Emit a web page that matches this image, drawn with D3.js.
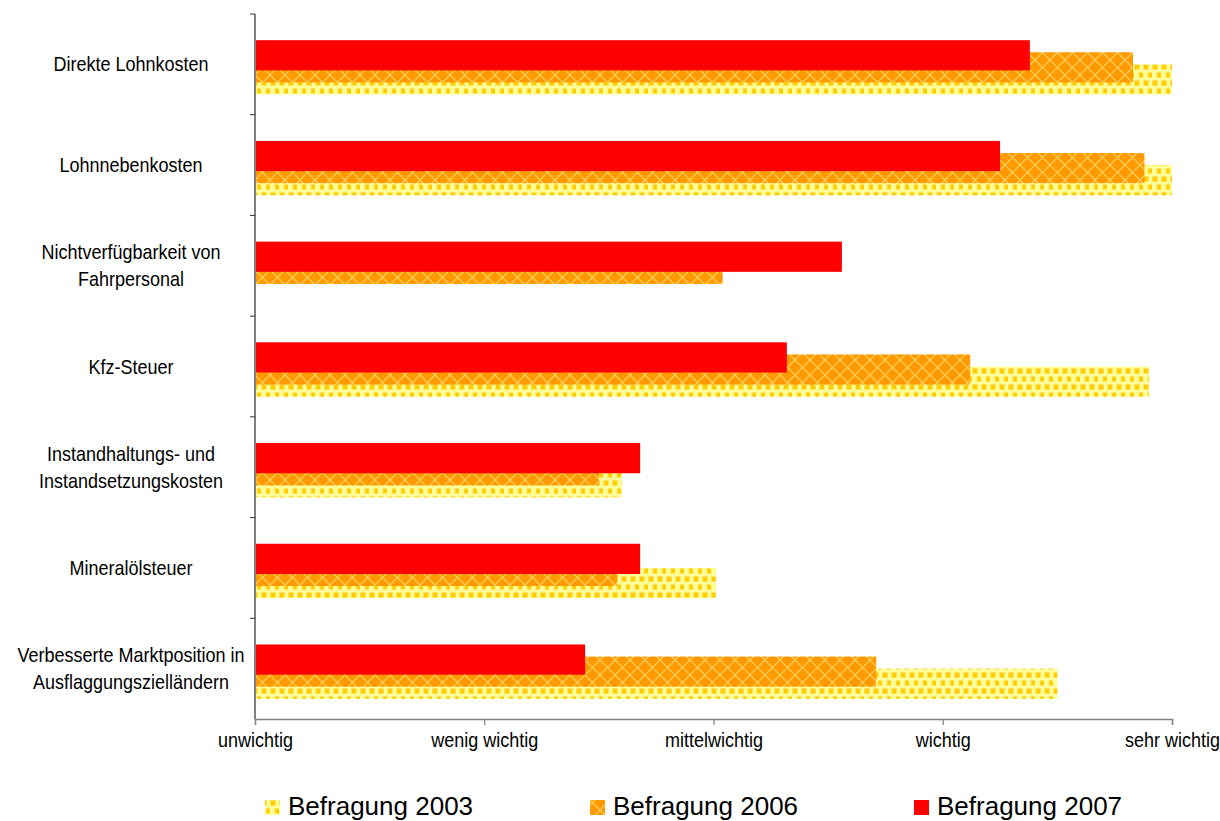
<!DOCTYPE html>
<html>
<head>
<meta charset="utf-8">
<script src="https://cdn.jsdelivr.net/npm/d3@7"></script>
<style>
  html, body { margin: 0; padding: 0; background: #fff; }
  svg { display: block; }
  text { fill: #000; }
</style>
</head>
<body>
<svg id="chart" width="1220" height="821"></svg>
<script>
// Bewertung der Kostenfaktoren (1 = unwichtig ... 5 = sehr wichtig)
const categories = [
  ["Direkte Lohnkosten"],
  ["Lohnnebenkosten"],
  ["Nichtverfügbarkeit von", "Fahrpersonal"],
  ["Kfz-Steuer"],
  ["Instandhaltungs- und", "Instandsetzungskosten"],
  ["Mineralölsteuer"],
  ["Verbesserte Marktposition in", "Ausflaggungszielländern"]
];
const values2003 = [5.0, 5.0, null, 4.90, 2.60, 3.01, 4.50];
const values2006 = [4.83, 4.88, 3.04, 4.12, 2.50, 2.58, 3.71];
const values2007 = [4.38, 4.25, 3.56, 3.32, 2.68, 2.68, 2.44];
const tickLabels = ["unwichtig", "wenig wichtig", "mittelwichtig", "wichtig", "sehr wichtig"];
const seriesNames = ["Befragung 2003", "Befragung 2006", "Befragung 2007"];

const svg = d3.select("#chart");
const defs = svg.append("defs");
const narrowFont = "'Liberation Sans', Arial, sans-serif";
const squeeze = 0.9; // condensed look for axis and category text

// dotted yellow fill
const p03 = defs.append("pattern").attr("id", "pat2003")
  .attr("patternUnits", "userSpaceOnUse").attr("width", 9).attr("height", 16);
p03.append("rect").attr("width", 9).attr("height", 16).attr("fill", "#ffff99");
[[1, 1], [5.5, 9]].forEach(([x, y]) => {
  p03.append("rect").attr("x", x - 1).attr("y", y - 1).attr("width", 6).attr("height", 6).attr("fill", "#ffe45c");
  p03.append("rect").attr("x", x).attr("y", y).attr("width", 4).attr("height", 4).attr("fill", "#ffcc00");
});

// orange lattice fill
const p06 = defs.append("pattern").attr("id", "pat2006")
  .attr("patternUnits", "userSpaceOnUse").attr("width", 15).attr("height", 15);
p06.append("rect").attr("width", 15).attr("height", 15).attr("fill", "#ff9900");
p06.append("path").attr("d", "M0,0L15,15M15,0L0,15")
  .attr("stroke", "#ffcc55").attr("stroke-width", 1.3).attr("fill", "none");

const fills = ["url(#pat2003)", "url(#pat2006)", "#ff0000"];
const seriesValues = [values2003, values2006, values2007];

const x = d3.scaleLinear().domain([1, 5]).range([255, 1172]);
const y = d3.scaleBand().domain(d3.range(categories.length)).range([14, 719]).padding(0);
const bw = y.bandwidth();
const barH = bw * 0.30;
const offs = [bw * 0.50, bw * 0.38, bw * 0.26]; // 2003 lowest, 2007 on top

// bars: 2003 first so 2007 ends up on top
seriesValues.forEach((vals, s) => {
  svg.append("g").selectAll("rect")
    .data(vals.map((v, i) => ({ v, i })).filter(d => d.v != null))
    .join("rect")
    .attr("x", x(1))
    .attr("y", d => y(d.i) + offs[s])
    .attr("width", d => x(d.v) - x(1))
    .attr("height", barH)
    .attr("fill", fills[s]);
});

// x axis
const xAxis = d3.axisBottom(x).tickValues([1, 2, 3, 4, 5])
  .tickFormat((d, i) => tickLabels[i]).tickSizeOuter(0).tickSize(6).tickPadding(8);
const gx = svg.append("g").attr("transform", "translate(0,719)").call(xAxis);
gx.select(".domain").attr("stroke", "#808080").attr("stroke-width", 1.5);
gx.selectAll(".tick line").attr("stroke", "#808080").attr("stroke-width", 1.2);
gx.selectAll(".tick text")
  .attr("font-family", narrowFont)
  .attr("font-size", 20).attr("fill", "#000")
  .attr("transform", `scale(${squeeze},1)`);

// y axis with ticks on category borders
const gy = svg.append("g");
gy.append("line").attr("x1", 255).attr("x2", 255).attr("y1", 14).attr("y2", 719)
  .attr("stroke", "#808080").attr("stroke-width", 2);
gy.selectAll("line.t").data(d3.range(categories.length))
  .join("line").attr("class", "t")
  .attr("x1", 250).attr("x2", 255)
  .attr("y1", d => y(d)).attr("y2", d => y(d))
  .attr("stroke", "#333").attr("stroke-width", 1);

// category labels
const lab = svg.append("g")
  .attr("font-family", narrowFont)
  .attr("font-size", 20).attr("text-anchor", "middle");
categories.forEach((lines, i) => {
  const cy = y(i) + bw / 2;
  const lh = 27;
  lines.forEach((t, k) => {
    lab.append("text")
      .attr("transform", `translate(131,${cy + (k - (lines.length - 1) / 2) * lh}) scale(${squeeze},1)`)
      .attr("dy", "0.35em")
      .text(t);
  });
});

// legend
const legX = [265, 590, 914];
const leg = svg.append("g");
seriesNames.forEach((n, s) => {
  leg.append("rect").attr("x", legX[s]).attr("y", 800).attr("width", 15).attr("height", 15)
    .attr("fill", fills[s]);
  leg.append("text").attr("x", legX[s] + 23).attr("y", 815)
    .attr("font-family", "'Liberation Sans', Arial, sans-serif")
    .attr("font-size", 26).text(n);
});
</script>
</body>
</html>
